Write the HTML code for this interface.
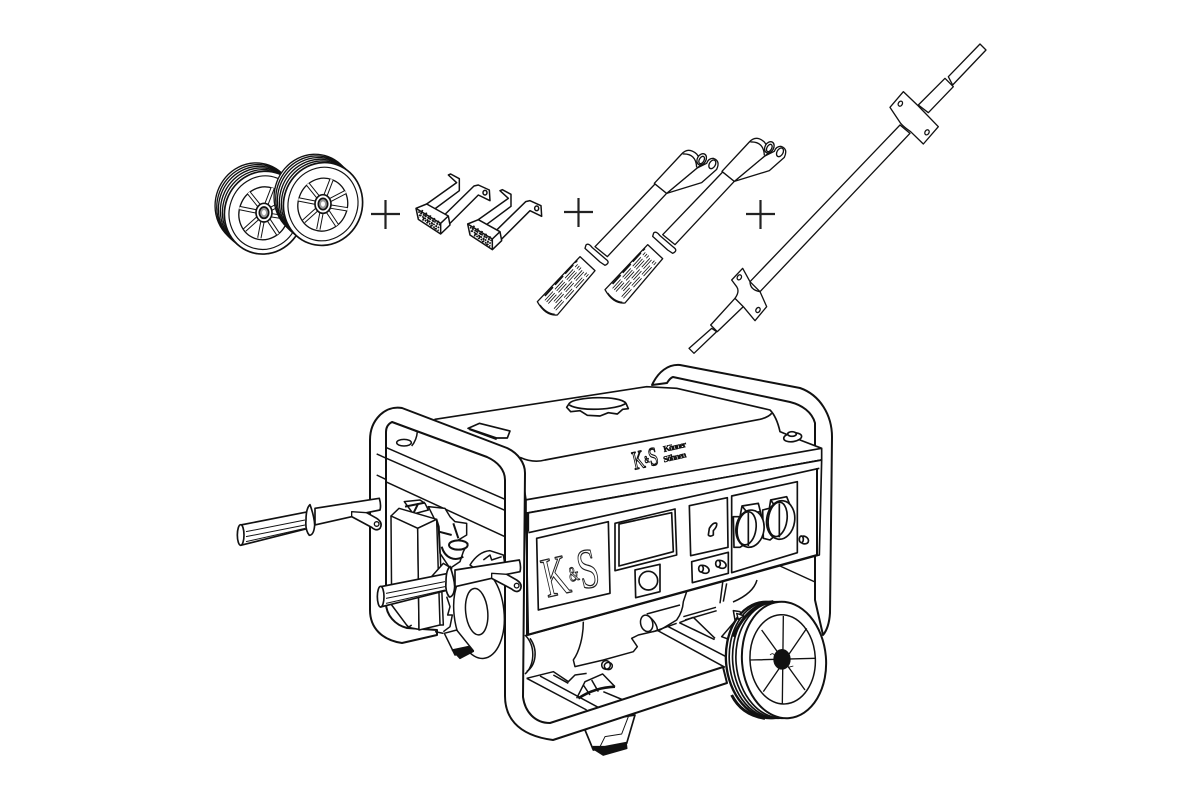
<!DOCTYPE html>
<html>
<head>
<meta charset="utf-8">
<style>
html,body{margin:0;padding:0;background:#fff;width:1200px;height:800px;overflow:hidden}
svg{display:block}
text{font-family:"Liberation Serif",serif}
</style>
</head>
<body>
<svg xmlns="http://www.w3.org/2000/svg" width="1200" height="800" viewBox="0 0 1200 800">
<defs>
<g id="face">
  <ellipse cx="0" cy="0" rx="118" ry="125" transform="rotate(20)" fill="#fff" stroke="#111" stroke-width="5"/>
  <ellipse cx="0" cy="0" rx="104" ry="111" transform="rotate(20)" fill="none" stroke="#111" stroke-width="3.500"/>
  <ellipse cx="0" cy="2" rx="74" ry="80" transform="rotate(20)" fill="none" stroke="#111" stroke-width="4"/>
  <path d="M6,-22 L26,-74M22,-12 L68,-36M24,8 L74,16M14,22 L42,64M-4,24 L-14,76M-18,16 L-58,52M-24,-4 L-74,-14M-14,-20 L-46,-60" stroke="#111" stroke-width="13" fill="none"/>
  <path d="M6,-22 L26,-74M22,-12 L68,-36M24,8 L74,16M14,22 L42,64M-4,24 L-14,76M-18,16 L-58,52M-24,-4 L-74,-14M-14,-20 L-46,-60" stroke="#fff" stroke-width="7" fill="none"/>
  <ellipse cx="0" cy="0" rx="24" ry="28" fill="#fff" stroke="#111" stroke-width="5"/>
  <ellipse cx="0" cy="0" rx="14" ry="17" fill="#999" stroke="#111" stroke-width="5"/>
  <ellipse cx="0" cy="0" rx="6" ry="8" fill="#fff" stroke="none"/>
</g>
<g id="acw">
  <g fill="#fff" stroke="#111" stroke-width="4">
    <ellipse cx="-28" cy="-25" rx="118" ry="125" transform="rotate(20 -28 -25)"/>
    <ellipse cx="-23" cy="-20" rx="118" ry="125" transform="rotate(20 -23 -20)"/>
    <ellipse cx="-18" cy="-15" rx="118" ry="125" transform="rotate(20 -18 -15)"/>
    <ellipse cx="-12" cy="-10" rx="118" ry="125" transform="rotate(20 -12 -10)"/>
    <ellipse cx="-6" cy="-5" rx="118" ry="125" transform="rotate(20 -6 -5)"/>
  </g>
  <use href="#face"/>
</g>
<g id="brk" stroke="#111" stroke-width="4.500" stroke-linejoin="round" fill="#fff">
  <path d="M680,222 L770,158 L745,135 L752,132 L778,146 L778,182 L700,240 Z"/>
  <path d="M730,258 L822,168 L835,165 L868,180 L870,212 L835,195 L745,285 Z"/>
  <ellipse cx="855" cy="188" rx="6" ry="7"/>
  <path d="M648,235 L680,222 L745,258 L750,285 L722,312 L655,268 Z"/>
  <path d="M648,235 L722,280 L745,258M722,280 L722,312" fill="none"/>
  <path d="M655,245 L720,285M660,255 L718,294M668,266 L716,302M668,240 L656,262M680,248 L668,272M692,256 L680,280M704,264 L692,290M716,272 L705,298" stroke-width="5" stroke-dasharray="5 3" fill="none"/>
</g>
<g id="hnd" stroke="#111" stroke-width="4" stroke-linejoin="round" fill="#fff">
  <path d="M225,650 L345,525 L405,462 L440,490 L262,680 Z"/>
  <path d="M440,490 L545,458 L590,418 Q602,392 580,385 Q565,385 560,400 L530,415 Z"/>
  <path d="M403,460 L485,372 Q505,350 530,372 L550,400 L530,415 L440,490 Z"/>
  <path d="M488,372 Q528,370 530,412" fill="none"/>
  <ellipse cx="545" cy="388" rx="13" ry="18" transform="rotate(30 545 388)"/>
  <ellipse cx="545" cy="390" rx="7" ry="12" transform="rotate(30 545 390)"/>
  <ellipse cx="577" cy="403" rx="9" ry="14" transform="rotate(30 577 403)"/>
  <path d="M52,815 L180,680 L225,722 L112,855 Q76,858 52,815 Z"/>
  <path d="M60,825 Q78,850 104,853" fill="none"/>
  <path d="M198,645 Q205,638 216,652 L258,688 Q272,698 255,706 L240,696 L195,655 Z"/>
  <g transform="translate(80 835) rotate(-47.700)" fill="none">
    <g stroke-width="2.500" stroke-dasharray="36 9">
      <path d="M14,-20 H160 M14,-13 H160 M14,-6 H160"/>
      <path d="M30,2 H160 M30,9 H160"/>
      <path d="M14,17 H160 M14,24 H160"/>
    </g>
    <path d="M24,-29 H168" stroke-width="5" stroke-dasharray="36 9"/>
  </g>
</g>
<g id="grp" stroke="#111" stroke-linejoin="round">
  <path d="M285,445 L478,415 Q484,435 480,450 L440,458 L470,475 Q490,488 480,505 Q470,515 455,502 L395,470 L285,495 Z" fill="#fff" stroke-width="5"/>
  <path d="M395,470 L395,455 L440,458" fill="none" stroke-width="4"/>
  <circle cx="470" cy="492" r="7" fill="#fff" stroke-width="4"/>
  <path d="M62,495 L265,455 L265,505 L62,556 Q50,525 62,495 Z" fill="#fff" stroke-width="5"/>
  <ellipse cx="62" cy="525" rx="10" ry="31" fill="#fff" stroke-width="5"/>
  <path d="M270,434 Q283,470 284,495 Q282,525 268,526 Q255,510 258,480 Q258,445 270,434 Z" fill="#fff" stroke-width="5"/>
  <path d="M78,515 L255,480M78,530 L255,495M78,545 L255,505" fill="none" stroke-width="3"/>
</g>
</defs>

<!-- wheels -->
<g transform="translate(200 130) scale(.33333)">
  <g transform="translate(192 248)"><use href="#acw"/></g>
  <g transform="translate(369 222)"><use href="#acw"/></g>
  <use href="#brk"/>
  <use href="#brk" transform="translate(155 47)"/>
</g>

<!-- plus signs -->
<path d="M371,214 H400 M385.500,200 V229 M564,212 H593 M578.500,198 V227 M746,214 H775 M760.500,200 V229" stroke="#222" stroke-width="2.200" fill="none"/>

<!-- handles and axle -->
<g transform="translate(520 30) scale(.33333)">
  <use href="#hnd" transform="translate(203 -36)"/>
  <use href="#hnd"/>
  <g stroke="#111" stroke-width="4" fill="#fff" stroke-linejoin="round">
    <path d="M1285,140 L1380,42 L1398,60 L1298,165 Z"/>
    <path d="M1195,225 L1275,145 L1300,170 L1225,248 Z"/>
    <path d="M690,755 L1140,285 L1170,310 L720,785 Z"/>
    <path d="M1110,232 L1150,185 L1195,228 L1255,290 L1210,342 L1172,305 Q1150,290 1142,280 Z"/>
    <ellipse cx="1141" cy="221" rx="6" ry="8" transform="rotate(30 1141 221)"/>
    <ellipse cx="1221" cy="307" rx="6" ry="8" transform="rotate(30 1221 307)"/>
    <path d="M575,895 L507,955 L522,970 L590,905 Z"/>
    <path d="M645,805 L572,885 L592,905 L670,830 Z"/>
    <path d="M635,750 L668,715 L690,755 Q690,780 720,785 L740,830 L705,872 L670,830 L645,805 Q660,785 650,770 Z"/>
    <ellipse cx="658" cy="742" rx="6" ry="8" transform="rotate(30 658 742)"/>
    <ellipse cx="714" cy="840" rx="6" ry="8" transform="rotate(30 714 840)"/>
  </g>
</g>

<!-- rear frame -->
<g fill="#fff" stroke="#111" stroke-width="2" stroke-linejoin="round">
  <path d="M652,385 C658,372 668,364 680,365 L800,388 C820,395 832,415 832,437 L830,613 Q829,628 823,635 L815,600 L815,442 L815,423 C812,412 802,405 790,402 L673,377 Q670,378 667,383 Z"/>
</g>

<!-- under-panel: feet -->
<g transform="translate(440 580) scale(.33333)" stroke="#111" stroke-width="5" stroke-linejoin="round" fill="#fff">
  <path d="M435,450 L460,510 L560,490 L585,405 L490,420 Z"/>
  <path d="M480,500 L495,470 L545,462 L565,410" fill="none" stroke-width="3"/>
  <path d="M458,505 L490,525 L560,505 L558,488 L495,500 L460,500 Z" fill="#111"/>
</g>

<!-- under-panel: engine (origin 520,570) -->
<g transform="translate(520 570) scale(.33333)" stroke="#111" stroke-width="4.500" stroke-linejoin="round" fill="none">
  <path d="M15,195 C50,230 42,290 15,312"/>
  <path d="M30,205 C55,240 48,285 20,305"/>
  <path d="M609,30 L600,100 M711,30 Q700,70 639,96 M620,40 L610,95"/>
  <path d="M490,140 L588,112 M495,150 L590,122"/>
  <path d="M410,180 L615,292"/>
  <path d="M445,170 L622,262"/>
  <path d="M478,158 L582,208 L520,178 M520,142 L585,205"/>
  <path d="M478,158 L520,142"/>
  <path d="M190,155 C190,200 178,245 160,270 L165,290 L250,270 L340,245 L352,230 L335,205 L355,195 L420,180 L470,150 Q488,125 490,95 L500,65"/>
  <path d="M380,132 L480,105 M400,185 L470,160"/>
  <ellipse cx="380" cy="160" rx="18" ry="25" transform="rotate(-15 380 160)" fill="#fff"/>
  <path d="M385,137 Q412,160 412,180"/>
  <ellipse cx="265" cy="288" rx="12" ry="11" fill="#fff"/>
  <circle cx="258" cy="285" r="13"/>
  <path d="M20,325 L100,305 L145,335 L165,315 L200,310"/>
  <path d="M20,325 L200,420"/>
  <path d="M60,318 L240,415"/>
  <path d="M100,315 L145,340"/>
  <path d="M170,385 L195,335 L248,312 L285,350"/>
  <path d="M190,345 L210,375 M215,330 L235,365"/>
  <path d="M175,385 Q225,352 285,350" stroke-width="8"/>
  <path d="M250,365 L310,390"/>
  <path d="M640,130 L665,130 L605,200 L632,210 L660,165"/>
  <path d="M640,122 L660,125 L668,140 L645,150 Z" fill="#fff"/>
</g>

<!-- tank -->
<g transform="translate(500 360) scale(.33333)" stroke="#111" stroke-width="5" stroke-linejoin="round" fill="#fff">
  <path d="M-195,178 L440,80 L530,85 L810,150 Q830,170 840,215 L900,240 L965,265 L965,300 L78,460 L78,420 L60,300 L-200,200 Z"/>
  <path d="M60,292 Q100,310 135,300 L780,178 Q805,172 815,160" fill="none"/>
  <path d="M75,420 L965,265" fill="none"/>
  <path d="M-96,205 L-62,190 L30,213 L22,234 L-10,234 Z"/>
  <path d="M-92,208 L-10,238" fill="none"/>
  <path d="M75,460 L965,300" fill="none"/>
  <path d="M208,130 C225,110 360,105 378,130 L385,146 L368,148 L352,162 L325,158 L300,168 L262,166 L240,152 L212,155 L200,142 Z"/>
  <path d="M208,135 C240,155 350,150 378,130" fill="none"/>
  <ellipse cx="878" cy="232" rx="27" ry="13" transform="rotate(-8 878 232)"/>
  <ellipse cx="876" cy="222" rx="13" ry="7"/>
  <text transform="translate(404 329) rotate(-13) scale(.62 1)" font-size="78" fill="#fff" stroke="#111" stroke-width="4">K<tspan font-size="30" dy="-12" stroke-width="2.500">&amp;</tspan><tspan dy="12">S</tspan></text>
  <text transform="translate(492 276) rotate(-13)" font-size="26" font-weight="700" fill="#111" stroke="#111" stroke-width="1.500" textLength="70">Könner</text>
  <text transform="translate(492 307) rotate(-13)" font-size="26" font-weight="700" fill="#111" stroke="#111" stroke-width="1.500" textLength="70">Söhnen</text>
  <!-- front panel -->
  <path d="M78,460 L965,300 L958,585 L85,825 Z"/>
  <path d="M85,518 L958,325" fill="none"/>
  <path d="M110,535 L325,485 L330,700 L115,750 Z"/>
  <text transform="translate(142 712) rotate(-13) scale(.63 1)" font-size="170" fill="#fff" stroke="#222" stroke-width="4">K<tspan font-size="62" dy="-30" stroke-width="3">&amp;</tspan><tspan dy="30">S</tspan></text>
  <path d="M345,490 L525,447 L530,585 L345,632 Z"/>
  <path d="M357,492 L515,458 L520,575 L357,618 Z"/>
  <path d="M405,630 L480,613 L480,695 L407,713 Z"/>
  <circle cx="445" cy="662" r="28"/>
  <path d="M568,437 L682,413 L684,562 L572,587 Z"/>
  <path d="M628,505 Q640,485 650,490 Q652,500 640,512 L640,525 Q630,532 625,525 Z"/>
  <path d="M575,605 L685,577 L685,640 L577,668 Z"/>
  <ellipse cx="612" cy="628" rx="16" ry="11" transform="rotate(25 612 628)"/>
  <ellipse cx="603" cy="626" rx="7" ry="10"/>
  <ellipse cx="663" cy="613" rx="16" ry="11" transform="rotate(25 663 613)"/>
  <ellipse cx="654" cy="611" rx="7" ry="10"/>
  <path d="M695,408 L892,365 L892,578 L695,638 Z"/>
  <path d="M808,445 L812,420 L860,410 L872,440 L880,480 L810,540 L790,535 L788,450 Z"/>
  <path d="M812,420 L830,445 L865,435" fill="none"/>
  <ellipse cx="842" cy="480" rx="42" ry="58" transform="rotate(8 842 480)"/>
  <ellipse cx="833" cy="478" rx="28" ry="52" transform="rotate(8 833 478)" fill="none"/>
  <path d="M838,430 L838,532" fill="none"/>
  <path d="M720,470 L726,438 L775,430 L785,470 L785,520 L720,562 L702,562 L700,470 Z"/>
  <path d="M726,438 L745,462 L780,455" fill="none"/>
  <ellipse cx="750" cy="506" rx="42" ry="56" transform="rotate(8 750 506)"/>
  <ellipse cx="740" cy="505" rx="28" ry="50" transform="rotate(8 740 505)" fill="none"/>
  <path d="M745,458 L745,558" fill="none"/>
  <ellipse cx="912" cy="540" rx="14" ry="11" transform="rotate(25 912 540)"/>
  <ellipse cx="904" cy="538" rx="6" ry="10"/>
  <path d="M85,460 L85,515" fill="none"/>
</g>
<path d="M527,513 V635 L817,555 V468" fill="none" stroke="#111" stroke-width="2"/>
<path d="M780,566 L815,582" fill="none" stroke="#111" stroke-width="1.500"/>

<!-- front frame -->
<path d="M727,683 L553,740 C515,735 505,715 505,696 L505,480 C505,470 498,462 487,457 L392,422 Q386,425 386,432 L386,603 C386,615 395,625 407,628 L437,630 L437,635 L402,643 C382,640 370,628 370,610 L370,440 C370,420 385,405 402,408 L507,448 C518,453 525,463 525,473 L523,697 C525,712 535,723 550,723 L723,667 Z" fill="#fff" stroke="#111" stroke-width="2" stroke-linejoin="round"/>

<!-- bars behind engine window -->
<g transform="translate(220 360) scale(.33333)" stroke="#111" stroke-width="4.500" stroke-linejoin="round" fill="none">
  <path d="M497,365 L855,530" />
  <path d="M470,345 L497,358" />
  <path d="M470,282 L857,452"/>
  <path d="M497,262 L855,418"/>
  <path d="M575,258 Q590,240 592,215 L515,185"/>
  <ellipse cx="552" cy="248" rx="22" ry="10" fill="#fff"/>
</g>

<!-- interior (origin 375,490) -->
<g transform="translate(375 490) scale(.33333)" stroke="#111" stroke-width="4.500" stroke-linejoin="round" fill="#fff">
  <ellipse cx="312" cy="368" rx="75" ry="138" transform="rotate(-6 312 368)"/>
  <ellipse cx="305" cy="365" rx="33" ry="70" transform="rotate(-6 305 365)"/>
  <path d="M285,225 Q310,185 345,182 L385,195 L390,225 L320,250 Z"/>
  <path d="M325,210 L345,195 L350,210 L380,200" fill="none"/>
  <path d="M208,430 L245,420 L295,482 L240,495 Z"/>
  <path d="M232,480 L280,470 L295,484 L255,505 Z" fill="#111"/>
  <path d="M215,320 L225,350 L218,375 L232,375 L225,410 L205,425" fill="none"/>
  <path d="M160,50 L210,55 L225,80 L240,95 L275,100 L275,135 L250,150 L278,160 L265,185 L255,215 L225,235 L195,190 L190,110 Z"/>
  <path d="M192,125 L230,135 M235,100 L250,145" fill="none" stroke-width="6"/>
  <ellipse cx="250" cy="165" rx="28" ry="14" stroke-width="6"/>
  <path d="M200,170 C210,205 240,215 265,200" fill="none" stroke-width="6"/>
  <path d="M88,35 L135,30 L150,40 L160,60 L115,72 Z"/>
  <path d="M90,50 L150,38 M115,70 L130,40" fill="none" stroke-width="6"/>
  <path d="M48,78 L72,55 L185,88 L128,115 Z"/>
  <path d="M48,78 L128,115 L132,418 L100,412 L50,345 Z"/>
  <path d="M128,115 L185,88 L195,405 L132,420 Z"/>
  <path d="M185,88 L192,110 L205,405 L195,405" fill="none"/>
  <path d="M100,412 L110,405 M95,405 L105,415" fill="none"/>
  <path d="M165,265 L205,220 L230,235 L220,265 Z"/>
  <path d="M180,425 L205,430" fill="none"/>
</g>
<g transform="translate(220 360) scale(.33333)">
  <use href="#grp"/>
  <use href="#grp" transform="translate(420 185)"/>
</g>

<!-- wheel -->
<g transform="translate(440 580) scale(.33333)" stroke="#111" stroke-linejoin="round" fill="#fff">
  <ellipse cx="985" cy="240" rx="127" ry="175" transform="rotate(-5 985 240)" stroke-width="7"/>
  <ellipse cx="995" cy="240" rx="127" ry="175" transform="rotate(-5 995 240)" stroke-width="5"/>
  <ellipse cx="1005" cy="240" rx="127" ry="175" transform="rotate(-5 1005 240)" stroke-width="5"/>
  <ellipse cx="1018" cy="240" rx="130" ry="175" transform="rotate(-5 1018 240)" stroke-width="5"/>
  <path d="M880,170 Q920,75 1000,65 M875,345 Q905,405 975,415" fill="none" stroke-width="9"/>
  <ellipse cx="1032" cy="240" rx="126" ry="175" transform="rotate(-5 1032 240)" stroke-width="6"/>
  <ellipse cx="1028" cy="238" rx="98" ry="134" transform="rotate(-3 1028 238)" stroke-width="4.500"/>
  <path d="M1030,108 L1027,370M930,240 L1125,235M965,150 L1095,330M1100,145 L970,335" stroke-width="4" fill="none"/>
  <ellipse cx="1026" cy="238" rx="25" ry="30" fill="#111" stroke-width="2"/>
  <path d="M990,225 Q1000,215 1005,230M1045,262 L1060,258" fill="none" stroke-width="2.500"/>
  <path d="M890,100 L912,108 L895,118 Z" stroke-width="4"/>
</g>
</svg>
</body>
</html>
